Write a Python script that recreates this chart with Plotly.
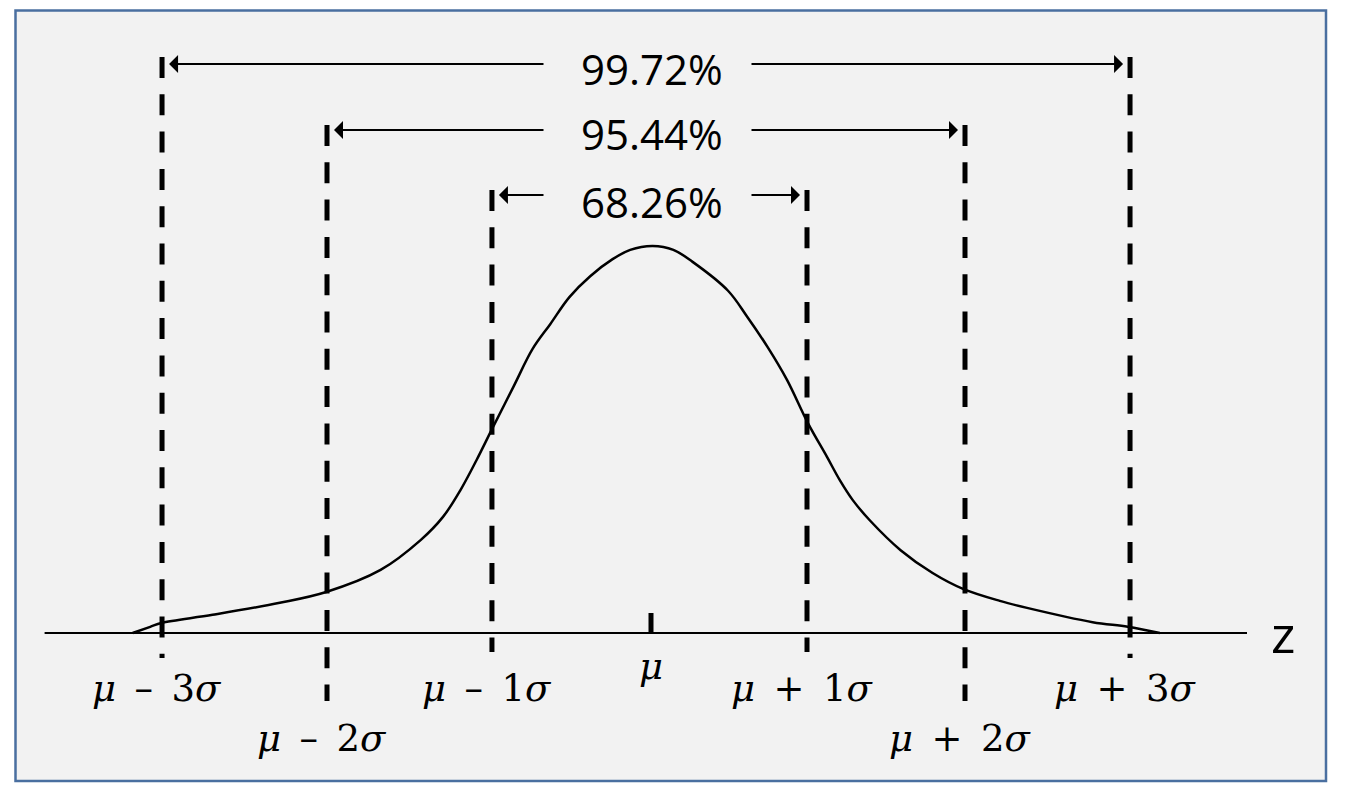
import plotly.graph_objects as go

# ---------------- data ----------------
# hand-drawn bell curve: z in sigma units, h = relative height (peak = 1)
curve_z = [-3.24, -3.13, -3.06, -2.74, -2.32, -2.03, -1.69, -1.44, -1.30, -1.19,
           -1.09, -0.99, -0.86, -0.74, -0.63, -0.51, -0.38, -0.24, -0.13, 0.01,
           0.14, 0.26, 0.48, 0.60, 0.73, 0.85, 0.98, 1.10, 1.18, 1.26,
           1.37, 1.56, 1.76, 1.95, 2.18, 2.35, 2.76, 2.98, 3.18]
curve_h = [0.000, 0.016, 0.026, 0.047, 0.078, 0.106, 0.163, 0.240, 0.300, 0.370,
           0.447, 0.530, 0.636, 0.734, 0.798, 0.868, 0.922, 0.966, 0.990, 1.000,
           0.990, 0.959, 0.885, 0.818, 0.738, 0.654, 0.543, 0.455, 0.395, 0.344,
           0.290, 0.214, 0.155, 0.114, 0.083, 0.065, 0.028, 0.016, 0.000]

# positions of the sigma marks (as drawn)
sigma_k = [-3, -2, -1, 0, 1, 2, 3]
sigma_pos = [-3.056, -2.025, -0.994, 0.0, 0.975, 1.9625, 2.994]
sigma_labels = ["<i>μ</i> – 3<i>σ</i>", "<i>μ</i> – 2<i>σ</i>", "<i>μ</i> – 1<i>σ</i>",
                "<i>μ</i>",
                "<i>μ</i> + 1<i>σ</i>", "<i>μ</i> + 2<i>σ</i>", "<i>μ</i> + 3<i>σ</i>"]

band_k = [1, 2, 3]
band_pct = ["68.26%", "95.44%", "99.72%"]

axis_z = [-3.79, 3.725]

# ---------------- layout helpers (pixel -> data) ----------------
W, H = 1354, 804
X0, SX = 651.0, 160.0      # pixel of z=0, pixels per sigma
Y0, SY = 633.0, 387.0      # pixel of baseline, pixels per unit height


def zx(px):
    return (px - X0) / SX


def hy(py):
    return (Y0 - py) / SY


pos = dict(zip(sigma_k, sigma_pos))

fig = go.Figure()

# axis line
fig.add_trace(go.Scatter(x=axis_z, y=[0, 0], mode="lines",
                         line=dict(color="black", width=2), hoverinfo="skip"))
# curve
fig.add_trace(go.Scatter(x=curve_z, y=curve_h, mode="lines",
                         line=dict(color="black", width=2.5, shape="spline", smoothing=1.0),
                         hoverinfo="skip"))

shapes = []
# frame
shapes.append(dict(type="rect", xref="paper", yref="paper",
                   x0=15.5 / W, x1=1326 / W, y0=1 - 781 / H, y1=1 - 10.5 / H,
                   line=dict(color="#4a6fa0", width=2.5), fillcolor="#f2f2f2", layer="below"))

# dashed vertical sigma lines
top_px = {1: 190, 2: 125, 3: 57}
bot_px = {1: 652, 2: 701, 3: 658}
for k in sigma_k:
    if k == 0:
        continue
    a = abs(k)
    shapes.append(dict(type="line", xref="x", yref="y",
                       x0=pos[k], x1=pos[k], y0=hy(top_px[a]), y1=hy(bot_px[a]),
                       line=dict(color="black", width=5, dash="21px,16.3px")))
# mu tick
shapes.append(dict(type="line", xref="x", yref="y", x0=pos[0], x1=pos[0],
                   y0=hy(613), y1=0, line=dict(color="black", width=5)))

annotations = []
arrow_px = {1: 195, 2: 130, 3: 64}
text_px = {1: 201, 2: 133, 3: 68}
gap = 7 / SX
for k, pct in zip(band_k, band_pct):
    ya = hy(arrow_px[k])
    # left arrow
    annotations.append(dict(x=pos[-k] + gap, y=ya, ax=zx(545), ay=ya, axref="x", ayref="y",
                            xref="x", yref="y", text="", showarrow=True, arrowhead=1,
                            arrowsize=1.5, arrowwidth=2, arrowcolor="black", standoff=0,
                            startstandoff=0))
    # right arrow
    annotations.append(dict(x=pos[k] - gap, y=ya, ax=zx(750), ay=ya, axref="x", ayref="y",
                            xref="x", yref="y", text="", showarrow=True, arrowhead=1,
                            arrowsize=1.5, arrowwidth=2, arrowcolor="black", standoff=0,
                            startstandoff=0))
    annotations.append(dict(x=zx(652), y=hy(text_px[k]), xref="x", yref="y", text=pct,
                            showarrow=False, xanchor="center", yanchor="middle",
                            font=dict(family="Open Sans", size=42, color="black")))

label_py = {0: 666, 1: 688, 2: 738, 3: 688}
for k, lab in zip(sigma_k, sigma_labels):
    off = 0 if k == 0 else -5 / SX
    lab = lab.replace(" ", "\u2002")
    annotations.append(dict(x=pos[k] + off, y=hy(label_py[abs(k)]), xref="x", yref="y",
                            text=lab, showarrow=False, xanchor="center", yanchor="middle",
                            font=dict(family="DejaVu Serif", size=37, color="black")))

annotations.append(dict(x=zx(1283), y=hy(632), xref="x", yref="y", text="z",
                        showarrow=False, xanchor="center", yanchor="middle",
                        font=dict(family="Open Sans", size=52, color="black")))

fig.update_layout(
    width=W, height=H,
    margin=dict(l=0, r=0, t=0, b=0),
    paper_bgcolor="white", plot_bgcolor="rgba(0,0,0,0)",
    showlegend=False,
    xaxis=dict(range=[zx(0), zx(W)], visible=False, fixedrange=True),
    yaxis=dict(range=[hy(H), hy(0)], visible=False, fixedrange=True),
    shapes=shapes, annotations=annotations,
)

fig.write_html("out.html", config={"displayModeBar": False},
               post_script="document.body.style.margin='0';")
